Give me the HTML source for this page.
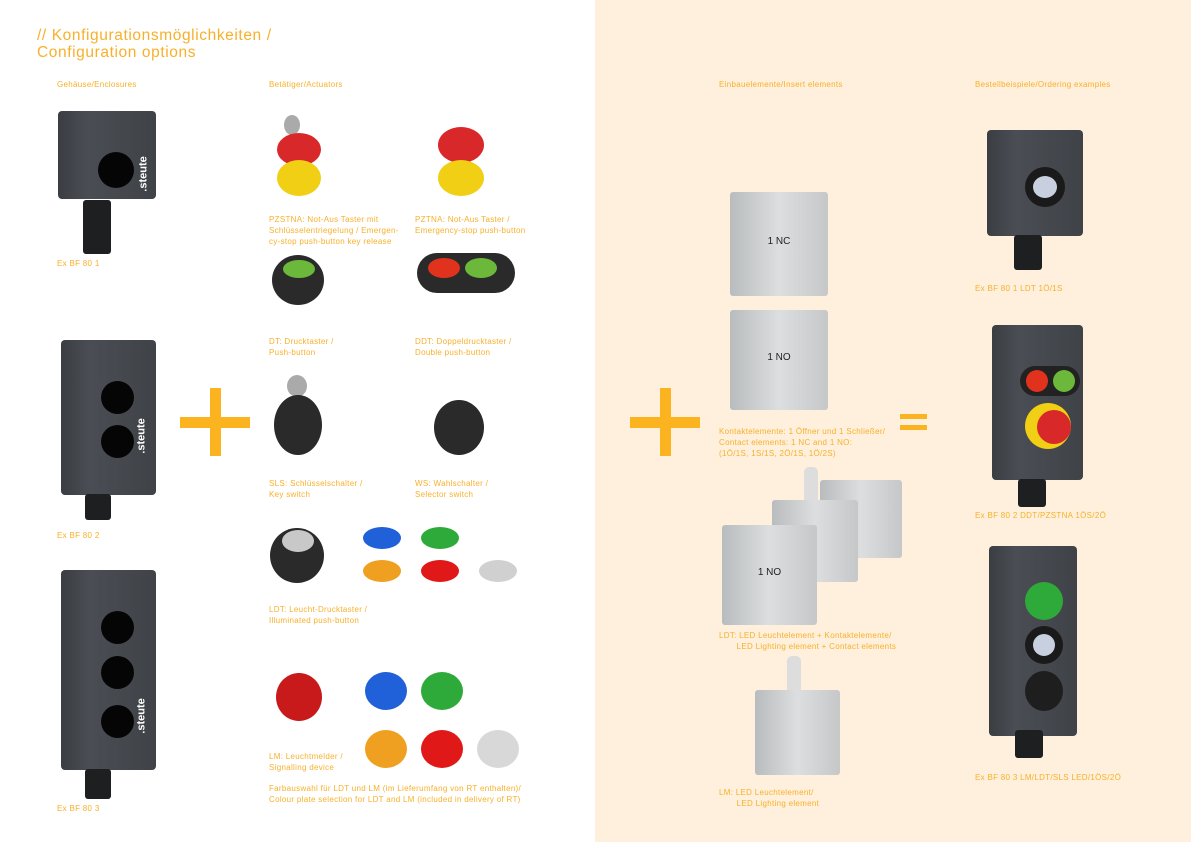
<!DOCTYPE html>
<html><head><meta charset="utf-8"><style>
body{margin:0;width:1191px;height:842px;position:relative;overflow:hidden;background:#fff;font-family:"Liberation Sans",sans-serif;}
.r{position:absolute;left:595px;top:0;width:596px;height:842px;background:#fef0dc;}
.t{position:absolute;color:#f8b02a;font-size:8px;line-height:11px;white-space:nowrap;letter-spacing:0.3px;}
.h{position:absolute;left:37px;top:27px;color:#f8b02a;font-size:15.5px;line-height:17px;letter-spacing:0.6px;}
.box{position:absolute;background:linear-gradient(90deg,#3a3d42,#4a4e54 30%,#3f4247);border-radius:4px;}
.hole{position:absolute;background:#050505;border-radius:50%;}
.gl{position:absolute;background:#1e1f21;border-radius:3px;}
.c{position:absolute;border-radius:50%;}
.pl{position:absolute;background:#fbb41f;}
.ce{position:absolute;background:linear-gradient(90deg,#b9bcbe,#dcdedf,#c5c7c9);border-radius:3px;font-size:10px;color:#222;text-align:center;}
.st{position:absolute;color:#fff;font-size:11px;font-weight:bold;transform:rotate(-90deg);}
</style></head><body>
<div class="r"></div>
<div class="h">// Konfigurationsmöglichkeiten /<br>Configuration options</div>
<div class="t" style="left:57px;top:79px">Gehäuse/Enclosures</div>
<div class="t" style="left:269px;top:79px">Betätiger/Actuators</div>
<div class="t" style="left:719px;top:79px">Einbauelemente/Insert elements</div>
<div class="t" style="left:975px;top:79px">Bestellbeispiele/Ordering examples</div>

<div class="box" style="left:58px;top:111px;width:98px;height:88px"></div>
<div class="hole" style="left:98px;top:152px;width:36px;height:36px"></div>
<div class="st" style="left:126px;top:168px">.steute</div>
<div class="gl" style="left:83px;top:200px;width:28px;height:54px"></div>
<div class="t" style="left:57px;top:258px">Ex BF 80 1</div>

<div class="box" style="left:61px;top:340px;width:95px;height:155px"></div>
<div class="hole" style="left:101px;top:381px;width:33px;height:33px"></div>
<div class="hole" style="left:101px;top:425px;width:33px;height:33px"></div>
<div class="st" style="left:124px;top:430px">.steute</div>
<div class="gl" style="left:85px;top:494px;width:26px;height:26px"></div>
<div class="t" style="left:57px;top:530px">Ex BF 80 2</div>

<div class="box" style="left:61px;top:570px;width:95px;height:200px"></div>
<div class="hole" style="left:101px;top:611px;width:33px;height:33px"></div>
<div class="hole" style="left:101px;top:656px;width:33px;height:33px"></div>
<div class="hole" style="left:101px;top:705px;width:33px;height:33px"></div>
<div class="st" style="left:124px;top:710px">.steute</div>
<div class="gl" style="left:85px;top:769px;width:26px;height:30px"></div>
<div class="t" style="left:57px;top:803px">Ex BF 80 3</div>

<div class="pl" style="left:180px;top:417px;width:70px;height:11px"></div>
<div class="pl" style="left:210px;top:388px;width:11px;height:68px"></div>
<div class="pl" style="left:630px;top:417px;width:70px;height:11px"></div>
<div class="pl" style="left:660px;top:388px;width:11px;height:68px"></div>
<div class="pl" style="left:900px;top:414px;width:27px;height:5px"></div>
<div class="pl" style="left:900px;top:425px;width:27px;height:5px"></div>

<div class="c" style="left:284px;top:115px;width:16px;height:20px;background:#aaa"></div>
<div class="c" style="left:277px;top:133px;width:44px;height:33px;background:#d9282a"></div>
<div class="c" style="left:277px;top:160px;width:44px;height:36px;background:#f0cf14"></div>
<div class="c" style="left:438px;top:127px;width:46px;height:36px;background:#d9282a"></div>
<div class="c" style="left:438px;top:160px;width:46px;height:36px;background:#f0cf14"></div>
<div class="t" style="left:269px;top:214px">PZSTNA: Not-Aus Taster mit<br>Schlüsselentriegelung / Emergen-<br>cy-stop push-button key release</div>
<div class="t" style="left:415px;top:214px">PZTNA: Not-Aus Taster /<br>Emergency-stop push-button</div>

<div class="c" style="left:272px;top:255px;width:52px;height:50px;background:#2a2a2a"></div>
<div class="c" style="left:283px;top:260px;width:32px;height:18px;background:#6bb83a"></div>
<div style="position:absolute;left:417px;top:253px;width:98px;height:40px;border-radius:20px;background:#2a2a2a"></div>
<div class="c" style="left:428px;top:258px;width:32px;height:20px;background:#e0321d"></div>
<div class="c" style="left:465px;top:258px;width:32px;height:20px;background:#6bb83a"></div>
<div class="t" style="left:269px;top:336px">DT: Drucktaster /<br>Push-button</div>
<div class="t" style="left:415px;top:336px">DDT: Doppeldrucktaster /<br>Double push-button</div>

<div class="c" style="left:287px;top:375px;width:20px;height:22px;background:#aaa"></div>
<div class="c" style="left:274px;top:395px;width:48px;height:60px;background:#2a2a2a"></div>
<div class="c" style="left:434px;top:400px;width:50px;height:55px;background:#2a2a2a"></div>
<div class="t" style="left:269px;top:478px">SLS: Schlüsselschalter /<br>Key switch</div>
<div class="t" style="left:415px;top:478px">WS: Wahlschalter /<br>Selector switch</div>

<div class="c" style="left:270px;top:528px;width:54px;height:55px;background:#2a2a2a"></div>
<div class="c" style="left:282px;top:530px;width:32px;height:22px;background:#c8c8c8"></div>
<div class="c" style="left:363px;top:527px;width:38px;height:22px;background:#2060d8"></div>
<div class="c" style="left:421px;top:527px;width:38px;height:22px;background:#2eaa3a"></div>
<div class="c" style="left:363px;top:560px;width:38px;height:22px;background:#f0a020"></div>
<div class="c" style="left:421px;top:560px;width:38px;height:22px;background:#e01818"></div>
<div class="c" style="left:479px;top:560px;width:38px;height:22px;background:#d0d0d0"></div>
<div class="t" style="left:269px;top:604px">LDT: Leucht-Drucktaster /<br>Illuminated push-button</div>

<div class="c" style="left:276px;top:673px;width:46px;height:48px;background:#c81a1a"></div>
<div class="c" style="left:365px;top:672px;width:42px;height:38px;background:#2060d8"></div>
<div class="c" style="left:421px;top:672px;width:42px;height:38px;background:#2eaa3a"></div>
<div class="c" style="left:365px;top:730px;width:42px;height:38px;background:#f0a020"></div>
<div class="c" style="left:421px;top:730px;width:42px;height:38px;background:#e01818"></div>
<div class="c" style="left:477px;top:730px;width:42px;height:38px;background:#d8d8d8"></div>
<div class="t" style="left:269px;top:751px">LM: Leuchtmelder /<br>Signalling device</div>
<div class="t" style="left:269px;top:783px">Farbauswahl für LDT und LM (im Lieferumfang von RT enthalten)/<br>Colour plate selection for LDT and LM (included in delivery of RT)</div>

<div class="ce" style="left:730px;top:192px;width:98px;height:104px;line-height:100px">1 NC</div>
<div class="ce" style="left:730px;top:310px;width:98px;height:100px;line-height:96px">1 NO</div>
<div class="t" style="left:719px;top:426px">Kontaktelemente: 1 Öffner und 1 Schließer/<br>Contact elements: 1 NC and 1 NO:<br>(1Ö/1S, 1S/1S, 2Ö/1S, 1Ö/2S)</div>
<div class="ce" style="left:820px;top:480px;width:82px;height:78px"></div>
<div class="c" style="left:804px;top:467px;width:14px;height:40px;background:#ddd;border-radius:5px"></div>
<div class="ce" style="left:772px;top:500px;width:86px;height:82px"></div>
<div class="ce" style="left:722px;top:525px;width:95px;height:100px;line-height:95px">1 NO</div>
<div class="t" style="left:719px;top:630px">LDT: LED Leuchtelement + Kontaktelemente/<br>&nbsp;&nbsp;&nbsp;&nbsp;&nbsp;&nbsp;&nbsp;LED Lighting element + Contact elements</div>
<div class="c" style="left:787px;top:656px;width:14px;height:40px;background:#ddd;border-radius:5px"></div>
<div class="ce" style="left:755px;top:690px;width:85px;height:85px"></div>
<div class="t" style="left:719px;top:787px">LM: LED Leuchtelement/<br>&nbsp;&nbsp;&nbsp;&nbsp;&nbsp;&nbsp;&nbsp;LED Lighting element</div>

<div class="box" style="left:987px;top:130px;width:96px;height:106px"></div>
<div class="c" style="left:1025px;top:167px;width:40px;height:40px;background:#1a1a1a"></div>
<div class="c" style="left:1033px;top:176px;width:24px;height:22px;background:#c8d0e0"></div>
<div class="gl" style="left:1014px;top:235px;width:28px;height:35px"></div>
<div class="t" style="left:975px;top:283px">Ex BF 80 1 LDT 1Ö/1S</div>

<div class="box" style="left:992px;top:325px;width:91px;height:155px"></div>
<div class="c" style="left:1020px;top:366px;width:60px;height:30px;background:#222;border-radius:15px"></div>
<div class="c" style="left:1026px;top:370px;width:22px;height:22px;background:#e0321d"></div>
<div class="c" style="left:1053px;top:370px;width:22px;height:22px;background:#6bb83a"></div>
<div class="c" style="left:1025px;top:403px;width:46px;height:46px;background:#f0cf14"></div>
<div class="c" style="left:1037px;top:410px;width:34px;height:34px;background:#d9282a"></div>
<div class="gl" style="left:1018px;top:479px;width:28px;height:28px"></div>
<div class="t" style="left:975px;top:510px">Ex BF 80 2 DDT/PZSTNA 1ÖS/2Ö</div>

<div class="box" style="left:989px;top:546px;width:88px;height:190px"></div>
<div class="c" style="left:1025px;top:582px;width:38px;height:38px;background:#2eaa3a"></div>
<div class="c" style="left:1025px;top:626px;width:38px;height:38px;background:#1a1a1a"></div>
<div class="c" style="left:1033px;top:634px;width:22px;height:22px;background:#c8d0e0"></div>
<div class="c" style="left:1025px;top:671px;width:38px;height:40px;background:#1e1e1e"></div>
<div class="gl" style="left:1015px;top:730px;width:28px;height:28px"></div>
<div class="t" style="left:975px;top:772px">Ex BF 80 3 LM/LDT/SLS LED/1ÖS/2Ö</div>
</body></html>
